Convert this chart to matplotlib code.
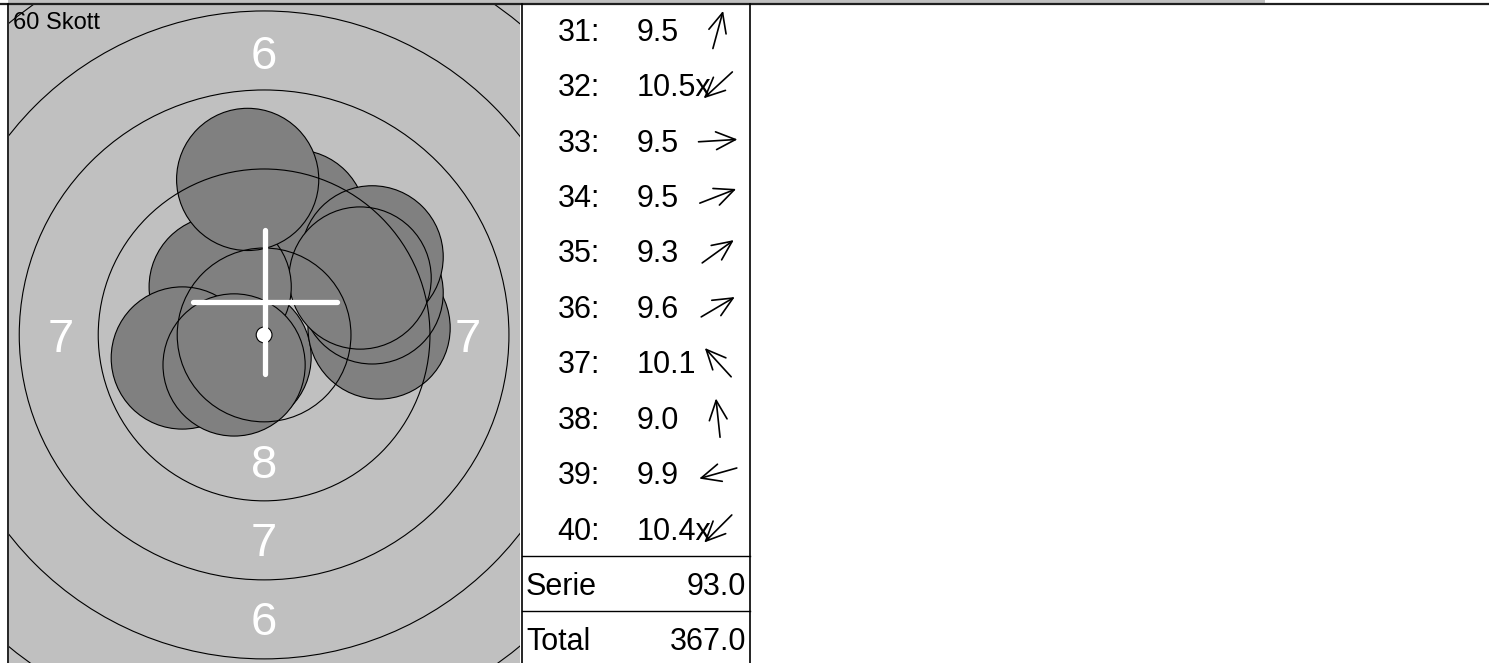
import numpy as np
import matplotlib.pyplot as plt
from matplotlib.patches import Circle, Rectangle

plt.rcParams['font.family'] = ['Liberation Sans', 'DejaVu Sans']

# shots of this series, position in mm from target centre (x right, y up)
shot_nr = [31, 32, 33, 34, 35, 36, 37, 38, 39, 40]
shot_x = [0.98, -0.76, 3.64, 3.42, 3.42, 3.04, -1.39, -0.52, -2.59, -0.95]
shot_y = [3.61, -0.70, 0.22, 1.33, 2.47, 1.80, 1.52, 4.92, -0.73, -0.95]
shot_val = ['9.5', '10.5x', '9.5', '9.5', '9.3', '9.6', '10.1', '9.0', '9.9', '10.4x']
serie = '93.0'
total = '367.0'
n_skott = 60
mpi = (0.03, 1.04)          # mean point of impact, mm
shot_r = 2.25               # 4.5 mm pellet

# 10m air rifle rings (radius in mm)
ring_r = [2.75, 5.25, 7.75, 10.25, 12.75, 15.25]
ten_r = 0.25
ring_lab = ['8', '7', '6']
ring_lab_r = [4.0, 6.45, 8.95]

W, H = 1489, 663
fig = plt.figure(figsize=(W / 100, H / 100), dpi=100)
fig.patch.set_facecolor('white')

# ---- target ----
ax = fig.add_axes([8.5 / W, 0, 511.5 / W, 659 / H])
ax.set_xlim(-8.09, 8.10)
ax.set_ylim(-10.38, 10.47)
ax.set_facecolor('#c0c0c0')
ax.set_xticks([])
ax.set_yticks([])
for s in ax.spines.values():
    s.set_visible(False)

lab_kw = dict(color='white', fontsize=34, ha='center', va='baseline', zorder=1, clip_on=True)
for lab, r in zip(ring_lab, ring_lab_r):
    for dx, dy in [(0, r), (0, -r), (-r, 0), (r, 0)]:
        if abs(dx) > 8:
            continue
        ax.text(dx, dy - 0.54, lab, **lab_kw)

for i in range(len(shot_nr)):
    ax.add_patch(Circle((shot_x[i], shot_y[i]), shot_r, facecolor='#808080',
                        edgecolor='black', lw=0.8, zorder=2 + i * 0.01))

for r in ring_r:
    ax.add_patch(Circle((0, 0), r, fill=False, edgecolor='black', lw=0.8, zorder=3))
ax.add_patch(Circle((0, 0), ten_r, facecolor='white', edgecolor='black', lw=0.8, zorder=4))

cl = 2.28
ax.plot([mpi[0] - cl, mpi[0] + cl], [mpi[1], mpi[1]], color='white', lw=3.8,
        solid_capstyle='round', zorder=5)
ax.plot([mpi[0], mpi[0]], [mpi[1] - cl, mpi[1] + cl], color='white', lw=3.8,
        solid_capstyle='round', zorder=5)

ax.text(-7.95, 10.47 - 25 / 31.6, f'{n_skott} Skott', fontsize=17, color='black',
        ha='left', va='baseline', zorder=3.5)

# ---- overlay in pixel coordinates: frame lines and score table ----
ov = fig.add_axes([0, 0, 1, 1], zorder=10)
ov.set_xlim(0, W)
ov.set_ylim(H, 0)
ov.axis('off')
ov.patch.set_alpha(0)

ov.add_patch(Rectangle((8, 0), 1257, 3, facecolor='#c0c0c0', edgecolor='none'))
ov.plot([0, W], [3.5, 3.5], color='#202020', lw=1.6)
ov.plot([7.5, 7.5], [3.5, H], color='black', lw=1.2)
ov.plot([521.5, 521.5], [3.5, H], color='black', lw=1.2)
ov.plot([749.5, 749.5], [3.5, H], color='black', lw=1.2)
ov.plot([522, 750], [556, 556], color='black', lw=1)
ov.plot([522, 750], [611, 611], color='black', lw=1)

fs = 22
row_h = 55.45
L = 39
for i in range(len(shot_nr)):
    yb = 40.7 + i * row_h
    ov.text(600, yb, f'{shot_nr[i]}:', fontsize=fs, ha='right', va='baseline')
    ov.text(637, yb, shot_val[i], fontsize=fs, ha='left', va='baseline')
    th = np.arctan2(shot_y[i], shot_x[i])
    cx, cy = 718, yb - 11
    x0, y0 = cx - L / 2 * np.cos(th), cy + L / 2 * np.sin(th)
    x1, y1 = cx + L / 2 * np.cos(th), cy - L / 2 * np.sin(th)
    ov.annotate('', xy=(x1, y1), xytext=(x0, y0),
                arrowprops=dict(arrowstyle='->,head_length=0.7,head_width=0.32',
                                mutation_scale=20, lw=1.2, color='black',
                                shrinkA=0, shrinkB=0))

ov.text(526, 595.3, 'Serie', fontsize=fs, ha='left', va='baseline')
ov.text(746, 595.3, serie, fontsize=fs, ha='right', va='baseline')
ov.text(526, 650, 'Total', fontsize=fs, ha='left', va='baseline')
ov.text(746, 650, total, fontsize=fs, ha='right', va='baseline')

fig.savefig('out.png', dpi=100)
